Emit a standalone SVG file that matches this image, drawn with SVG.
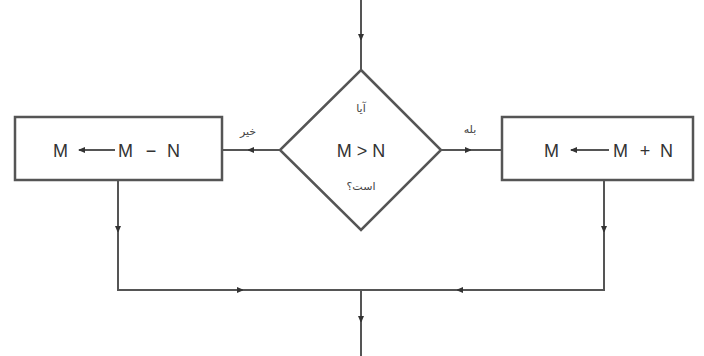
<svg xmlns="http://www.w3.org/2000/svg" width="704" height="356" viewBox="0 0 704 356">
<defs>
<marker id="ah" viewBox="0 0 8 8" refX="6" refY="4" markerWidth="8" markerHeight="8" markerUnits="userSpaceOnUse" orient="auto">
<path d="M0,1 L7,4 L0,7 Z" fill="#333"/>
</marker>
<style>
.ln{fill:none;stroke:#555;stroke-width:2}
.sh{fill:#fff;stroke:#555;stroke-width:2.5}
.t{font-family:"Liberation Sans",Arial,sans-serif;font-size:18px;fill:#333}
.c{text-anchor:middle}
.fa{font-family:"Noto Sans","DejaVu Sans",sans-serif;font-size:11px;fill:#444;text-anchor:middle}
</style>
</defs>
<rect width="704" height="356" fill="#fff"/>
<g id="connectors">
<path class="ln" d="M361,0 L361,40" marker-end="url(#ah)"/>
<path class="ln" d="M361,40 L361,70"/>
<path class="ln" d="M280,150 L248,150" marker-end="url(#ah)"/>
<path class="ln" d="M248,150 L222,150"/>
<path class="ln" d="M441,150 L471,150" marker-end="url(#ah)"/>
<path class="ln" d="M471,150 L502,150"/>
<path class="ln" d="M118,180 L118,232" marker-end="url(#ah)"/>
<path class="ln" d="M118,232 L118,290 L240,290"/>
<path class="ln" d="M604,180 L604,232" marker-end="url(#ah)"/>
<path class="ln" d="M604,232 L604,290 L458,290"/>
<path class="ln" d="M118,290 L243,290" marker-end="url(#ah)"/>
<path class="ln" d="M243,290 L361,290"/>
<path class="ln" d="M604,290 L457,290" marker-end="url(#ah)"/>
<path class="ln" d="M457,290 L361,290"/>
<path class="ln" d="M361,290 L361,322" marker-end="url(#ah)"/>
<path class="ln" d="M361,322 L361,356"/>
<text class="fa" x="248" y="135">خیر</text>
<text class="fa" x="470" y="133">بله</text>
</g>
<g id="decision">
<path class="sh" d="M361,70 L441,150 L361,230 L280,150 Z"/>
<text class="fa" x="361" y="112">آیا</text>
<text class="t c" x="361" y="157">M &gt; N</text>
<text class="fa" x="361" y="190">است؟</text>
</g>
<g id="left-box">
<rect class="sh" x="15" y="117" width="207" height="63"/>
<text class="t" x="53" y="157">M</text>
<path class="ln" d="M115,150 L79,150" marker-end="url(#ah)"/>
<text class="t" x="118" y="157">M</text>
<text class="t c" x="151" y="157">−</text>
<text class="t" x="167" y="157">N</text>
</g>
<g id="right-box">
<rect class="sh" x="502" y="117" width="191" height="63"/>
<text class="t" x="544" y="157">M</text>
<path class="ln" d="M609,150 L571,150" marker-end="url(#ah)"/>
<text class="t" x="613" y="157">M</text>
<text class="t c" x="645" y="157">+</text>
<text class="t" x="660" y="157">N</text>
</g>
</svg>
